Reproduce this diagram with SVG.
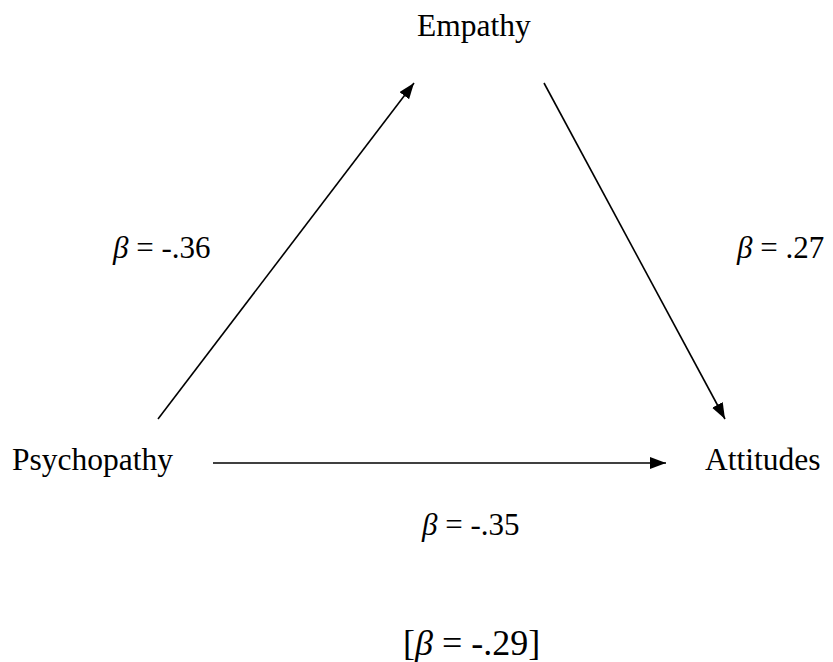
<svg xmlns="http://www.w3.org/2000/svg" width="833" height="662" viewBox="0 0 833 662">
  <style>
    .node { font-family: "Liberation Serif", "Times New Roman", serif; font-size: 31.5px; fill: #000; }
    .lbl { font-family: "Liberation Serif", "Times New Roman", serif; font-size: 31px; fill: #000; }
    .big { font-size: 36px; }
    .b { font-style: italic; }
    .edge { stroke: #000; stroke-width: 1.6; fill: none; marker-end: url(#arrow); }
  </style>
  <defs>
    <marker id="arrow" markerUnits="userSpaceOnUse" markerWidth="17" markerHeight="13" refX="16" refY="6" orient="auto">
      <path d="M0,0 L16,6 L0,12 Z" fill="#000"/>
    </marker>
  </defs>
  <rect width="833" height="662" fill="#fff"/>
  <g id="connectors">
    <line class="edge" x1="158" y1="419" x2="414" y2="83"/>
    <line class="edge" x1="544" y1="83" x2="725" y2="419"/>
    <line class="edge" x1="213" y1="463" x2="666" y2="463"/>
  </g>
  <g id="node-empathy">
    <text class="node" x="417" y="36">Empathy</text>
  </g>
  <g id="node-psychopathy">
    <text class="node" x="12" y="470">Psychopathy</text>
  </g>
  <g id="node-attitudes">
    <text class="node" x="705" y="470">Attitudes</text>
  </g>
  <g id="labels">
    <text class="lbl" x="113" y="258"><tspan class="b">β</tspan> = -.36</text>
    <text class="lbl" x="737" y="258"><tspan class="b">β</tspan> = .27</text>
    <text class="lbl" x="422" y="535"><tspan class="b">β</tspan> = -.35</text>
    <text class="lbl big" x="403" y="655">[<tspan class="b">β</tspan> = -.29]</text>
  </g>
</svg>
